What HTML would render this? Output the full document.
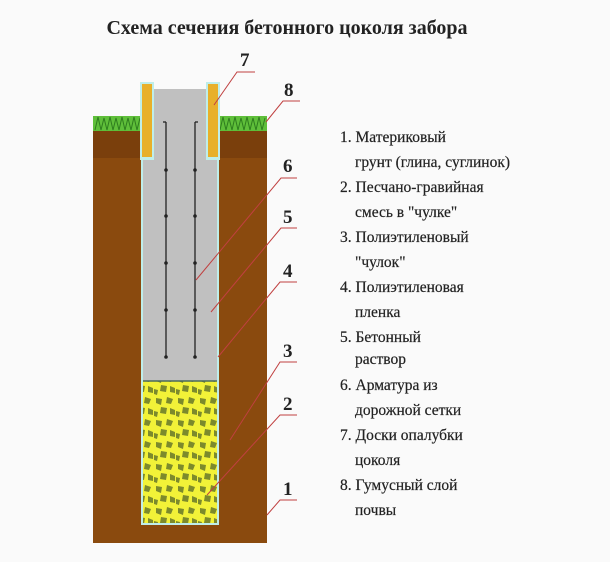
<!DOCTYPE html>
<html><head><meta charset="utf-8"><style>
body{margin:0;width:610px;height:557px;background:#fafafa;overflow:hidden;font-family:"Liberation Serif",serif;}
</style></head><body>
<svg width="610" height="557" xmlns="http://www.w3.org/2000/svg">
<defs>
<pattern id="gr" width="22" height="22" patternUnits="userSpaceOnUse">
<rect width="22" height="22" fill="#f2f238"/>
<path d="M2 2l6 1-1 6-5-2z M13 1l6 2-2 5-5-1z M7 11l6 1-1 6-6-1z M0 15l4 1-1 5-3-1z M16 12l5 2v5l-5-1z" fill="#7c8a2c"/>
</pattern>
</defs>
<text x="287" y="34" text-anchor="middle" font-size="20" font-weight="bold" fill="#222">Схема сечения бетонного цоколя забора</text>
<rect x="93" y="129" width="174" height="414" fill="#8a4a0e"/>
<rect x="93" y="130" width="174" height="28" fill="#7a3f0c"/>
<rect x="93" y="116" width="50" height="15" fill="#5fbf3a"/>
<rect x="218" y="116" width="49" height="15" fill="#5fbf3a"/>
<path d="M95 130l3-13 3 13 3-12 3 12 3-13 3 13 3-12 3 12 3-13 3 13 3-12 3 12 3-13 3 13 3-12 3 12M220 130l3-13 3 13 3-12 3 12 3-13 3 13 3-12 3 12 3-13 3 13 3-12 3 12 3-13 3 13 3-12" stroke="#2e7d1e" fill="none" stroke-width="1"/>
<rect x="141" y="158" width="78" height="367" fill="#bfeeea"/>
<rect x="143" y="160" width="74" height="221" fill="#c0c0c0"/>
<rect x="143" y="381" width="74" height="142" fill="url(#gr)"/>
<line x1="143" y1="381" x2="217" y2="381" stroke="#4a6a5a" stroke-width="1.5"/>
<rect x="140" y="82" width="14" height="78" fill="#bfeeea"/>
<rect x="206" y="82" width="14" height="78" fill="#bfeeea"/>
<rect x="142" y="84" width="10" height="73" fill="#e8b02a"/>
<rect x="208" y="84" width="10" height="73" fill="#e8b02a"/>
<rect x="154" y="89" width="52" height="75" fill="#c0c0c0"/>
<rect x="143" y="160" width="74" height="10" fill="#c0c0c0"/>
<g stroke="#222" stroke-width="1.3">
<line x1="166" y1="122" x2="166" y2="357"/><line x1="195" y1="122" x2="195" y2="357"/>
<line x1="163" y1="122" x2="166" y2="122"/><line x1="195" y1="122" x2="198" y2="122"/>
</g>
<g fill="#222">
<circle cx="166" cy="170" r="1.8"/><circle cx="195" cy="170" r="1.8"/>
<circle cx="166" cy="216" r="1.8"/><circle cx="195" cy="216" r="1.8"/>
<circle cx="166" cy="263" r="1.8"/><circle cx="195" cy="263" r="1.8"/>
<circle cx="166" cy="310" r="1.8"/><circle cx="195" cy="310" r="1.8"/>
<circle cx="166" cy="357" r="1.8"/><circle cx="195" cy="357" r="1.8"/>
</g>
<g stroke="#c04040" stroke-width="1" fill="none">
<polyline points="214,105 237,72 255,72"/>
<polyline points="266,122 283,101 300,101"/>
<polyline points="196,280 281,178 297,178"/>
<polyline points="211,312 281,228 297,228"/>
<polyline points="218,357 280,282 297,282"/>
<polyline points="230,440 280,362 297,362"/>
<polyline points="207,495 280,415 297,415"/>
<polyline points="267,515 280,500 297,500"/>
</g>
<g font-size="19" font-weight="bold" fill="#222">
<text x="240" y="66">7</text><text x="284" y="96">8</text>
<text x="283" y="172">6</text><text x="283" y="223">5</text>
<text x="283" y="277">4</text><text x="283" y="357">3</text>
<text x="283" y="410">2</text><text x="283" y="495">1</text>
</g>
<g font-size="15.5" fill="#222" stroke="#222" stroke-width="0.2">
<text x="340" y="142">1. Материковый</text>
<text x="355" y="167">грунт (глина, суглинок)</text>
<text x="340" y="192">2. Песчано-гравийная</text>
<text x="355" y="217">смесь в "чулке"</text>
<text x="340" y="242">3. Полиэтиленовый</text>
<text x="355" y="267">"чулок"</text>
<text x="340" y="292">4. Полиэтиленовая</text>
<text x="355" y="317">пленка</text>
<text x="340" y="342">5. Бетонный</text>
<text x="355" y="364">раствор</text>
<text x="340" y="390">6. Арматура из</text>
<text x="355" y="415">дорожной сетки</text>
<text x="340" y="440">7. Доски опалубки</text>
<text x="355" y="465">цоколя</text>
<text x="340" y="490">8. Гумусный слой</text>
<text x="355" y="515">почвы</text>
</g>
</svg>
</body></html>
